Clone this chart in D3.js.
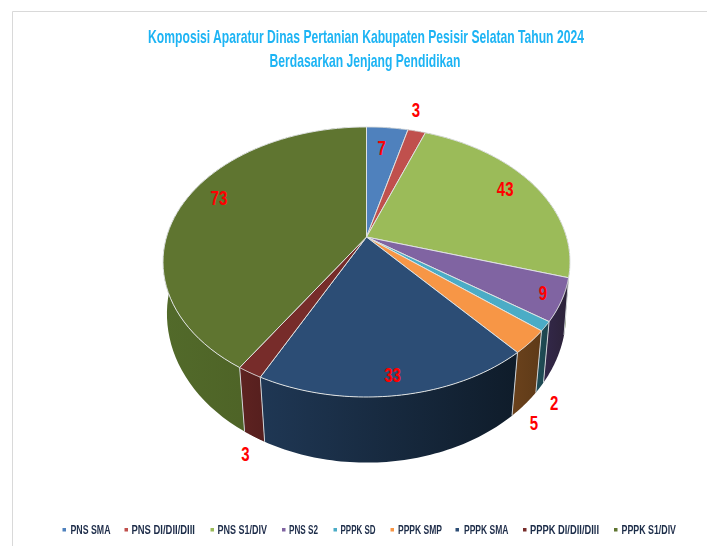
<!DOCTYPE html>
<html><head><meta charset="utf-8">
<script src="https://cdn.jsdelivr.net/npm/d3@7/dist/d3.min.js"></script>
<style>html,body{margin:0;padding:0;background:#fff}svg{display:block}
text{font-family:"Liberation Sans",sans-serif}</style></head>
<body><svg id="c" width="707" height="546"></svg>
<script>
const titleLines = ["Komposisi Aparatur Dinas Pertanian Kabupaten Pesisir Selatan Tahun 2024", "Berdasarkan Jenjang Pendidikan"];
const categories = ["PNS SMA","PNS DI/DII/DIII","PNS S1/DIV","PNS S2","PPPK SD","PPPK SMP","PPPK SMA","PPPK DI/DII/DIII","PPPK S1/DIV"];
const values = [7,3,43,9,2,5,33,3,73];
const topColors = ["#4f81bd","#c0504d","#9bbb59","#8064a2","#4bacc6","#f79646","#2c4d75","#772c2a","#5f7530"];
const sideStart = ["#2f4c70","#722f2d","#5c7035","#33284a","#1f4e58","#6b421c","#1f3754","#5e2321","#526a2a"];
const sideEnd   = ["#2f4c70","#722f2d","#5c7035","#2c2238","#1d444d","#5e3a18","#0f1c2a","#561f1e","#485a22"];
const labelNudge = [[-2,1],[8,-40],[4,-5],[23,7],[48,96],[40,104],[3,17],[-31,113],[0,-11]];
const legendSwatchX = [64,126,212,283.5,335,392,457,524.5,615.5];
const legendTextX   = [70.5,131.5,217.5,289,340.5,398,464,530,621.5];
const legendTextW   = [40,63.5,49.5,29,35,44,44.5,69,54.5];

const svg = d3.select("#c");
const defs = svg.append("defs");
defs.append("filter").attr("id","soft").append("feGaussianBlur").attr("stdDeviation",0.35);

// chart frame (top and left only)
svg.append("path").attr("d","M12.5 546V11.5H707").attr("fill","none").attr("stroke","#d9d9d9").attr("stroke-width",1);

// perspective projection of the pie's top and bottom planes
const topPlane = {cx:366.5, cy:237, a:200, b:130.4, k:-0.185};
const botPlane = {cx:366.5, cy:290, a:197, b:145, k:-0.16};
const project = (p, ang, r=1) => {
  const u = r*Math.sin(ang), v = -r*Math.cos(ang), d = 1 + p.k*v;
  return [p.cx + p.a*u/d, p.cy + p.b*v/d];
};
const arcs = d3.pie().sort(null).value(d=>d)(values).map((a,i)=>({...a,i}));
const line = d3.line();
const rim = (p,a0,a1) => d3.range(0,61).map(t=>project(p,a0+(a1-a0)*t/60));

// sides, back to front
arcs.forEach(a=>{
  defs.append("linearGradient").attr("id","side"+a.i).selectAll("stop")
    .data([[0,sideStart[a.i]],[1,sideEnd[a.i]]]).join("stop")
    .attr("offset",d=>d[0]).attr("stop-color",d=>d[1]);
});
const depth = a => -Math.cos((a.startAngle+a.endAngle)/2);
[...arcs].sort((x,y)=>depth(x)-depth(y)).forEach(a=>{
  const pts = rim(topPlane,a.startAngle,a.endAngle).concat(rim(botPlane,a.startAngle,a.endAngle).reverse());
  svg.append("path").attr("d",line(pts)+"Z").attr("fill",`url(#side${a.i})`);
});
// light seams between the visible sides
arcs.forEach(a=>{
  const v = -Math.cos(a.endAngle);
  if (v>0.2 && a.endAngle<Math.PI*1.6){
    svg.append("path").attr("d",line([project(topPlane,a.endAngle),project(botPlane,a.endAngle)]))
      .attr("stroke","#cfd3d6").attr("stroke-width",1).attr("fill","none");
  }
});
// top faces
arcs.forEach(a=>{
  const pts = [[topPlane.cx,topPlane.cy]].concat(rim(topPlane,a.startAngle,a.endAngle));
  svg.append("path").attr("d",line(pts)+"Z").attr("fill",topColors[a.i])
    .attr("stroke","#dfe2e2").attr("stroke-width",1).attr("stroke-linejoin","round");
});
// value labels (horizontally condensed)
svg.append("g").selectAll("text").data(arcs).join("text")
  .attr("transform",a=>{
    const p = project(topPlane,(a.startAngle+a.endAngle)/2,0.8);
    return `translate(${p[0]+labelNudge[a.i][0]},${p[1]+labelNudge[a.i][1]+7}) scale(0.75,1)`;
  })
  .attr("text-anchor","middle").attr("font-size",20).attr("font-weight","bold").attr("fill","#ff0000")
  .text(a=>a.data);
// title (horizontally condensed)
svg.append("g").selectAll("text").data(titleLines).join("text")
  .attr("transform",(d,i)=>`translate(${i?365:366},${i?67:43}) scale(0.675,1)`)
  .attr("text-anchor","middle").attr("font-size",18).attr("font-weight","bold").attr("fill","#1fb4f4")
  .attr("filter","url(#soft)").text(d=>d);
// legend
const lg = svg.append("g").selectAll("g").data(categories).join("g");
lg.append("rect").attr("x",(d,i)=>legendSwatchX[i]-1.5).attr("y",528).attr("width",3.5).attr("height",3.5)
  .attr("fill",(d,i)=>topColors[i]);
lg.append("text").attr("x",(d,i)=>legendTextX[i]).attr("y",534).attr("font-size",13).attr("font-weight","bold")
  .attr("fill","#1f2d4a").attr("textLength",(d,i)=>legendTextW[i]).attr("lengthAdjust","spacingAndGlyphs")
  .attr("filter","url(#soft)").text(d=>d);
</script></body></html>
